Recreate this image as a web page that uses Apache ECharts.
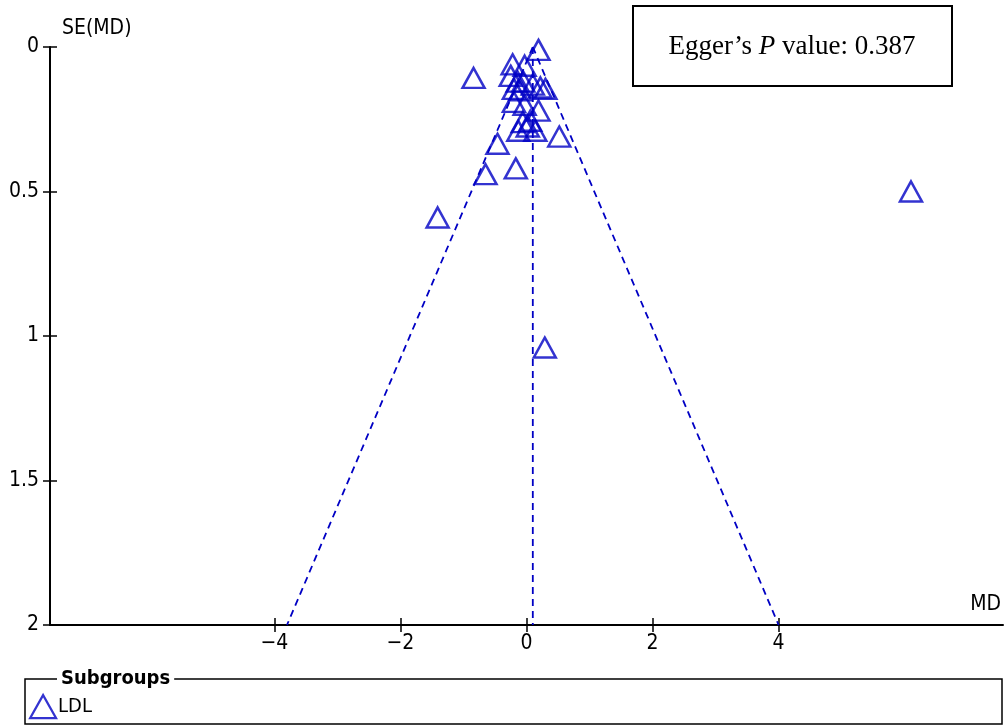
<!DOCTYPE html>
<html>
<head>
<meta charset="utf-8">
<script src="https://cdn.jsdelivr.net/npm/echarts@6/dist/echarts.min.js"></script>
<style>
html,body{margin:0;padding:0;background:#fff;}
#chart{width:1005px;height:727px;}
</style>
</head>
<body>
<div id="chart"></div>
<script>
// Study points: [MD, SE(MD)]
const ldlPoints = [
  [0.19, 0.01], [-0.22, 0.06], [-0.03, 0.065], [-0.84, 0.107], [-0.25, 0.10],
  [-0.14, 0.12], [-0.05, 0.12], [0.10, 0.13], [0.22, 0.14], [0.30, 0.145],
  [-0.20, 0.145], [-0.10, 0.15], [-0.20, 0.19], [-0.03, 0.20], [0.19, 0.22],
  [-0.06, 0.26], [0.06, 0.255], [-0.13, 0.29], [0.14, 0.29], [0.02, 0.275],
  [0.52, 0.31], [-0.46, 0.335], [-0.65, 0.44], [-0.17, 0.42], [-1.41, 0.59],
  [0.29, 1.04], [6.10, 0.50]
];
// Funnel guide lines
const funnelLeft = [[0.1, 0], [-3.8, 2]];
const funnelRight = [[0.1, 0], [4.0, 2]];
const funnelCenter = [[0.1, 0], [0.1, 2]];
const xTicks = [-4, -2, 0, 2, 4];
const yTicks = [0, 0.5, 1, 1.5, 2];
const seriesName = 'LDL';
const eggerP = '0.387';

const blue = '#0000C4';
const font = "'DejaVu Sans Condensed','DejaVu Sans',sans-serif";
const serif = "'Liberation Serif','Times New Roman',serif";
const chart = echarts.init(document.getElementById('chart'));

function dashLine(data) {
  return {
    type: 'line', data: data, symbol: 'none', silent: true,
    lineStyle: { color: blue, width: 1.8, type: [7, 5] },
    z: 1
  };
}

const xRange = { min: -7.56, max: 7.56 };
const tickStyle = { color: '#000', width: 1.5 };

chart.setOption({
  animation: false,
  backgroundColor: '#fff',
  grid: { left: 50, right: 2, top: 47, bottom: 102, containLabel: false },
  xAxis: [{
    type: 'value', min: xRange.min, max: xRange.max,
    splitLine: { show: false },
    axisLine: { onZero: false, lineStyle: { color: '#000', width: 2 } },
    axisTick: { customValues: xTicks, length: 7, lineStyle: tickStyle },
    axisLabel: { customValues: xTicks, color: '#000', fontSize: 21, fontFamily: font, margin: 8,
      formatter: v => String(v).replace('-', '\u2212') }
  }, {
    type: 'value', min: xRange.min, max: xRange.max, position: 'bottom',
    splitLine: { show: false },
    axisLine: { show: false, onZero: false },
    axisTick: { customValues: xTicks, inside: true, length: 7, lineStyle: tickStyle },
    axisLabel: { show: false }
  }],
  yAxis: [{
    type: 'value', inverse: true, min: 0, max: 2, interval: 0.5,
    splitLine: { show: false },
    axisLine: { onZero: false, lineStyle: { color: '#000', width: 2 } },
    axisTick: { length: 7, lineStyle: tickStyle },
    axisLabel: { color: '#000', fontSize: 21, fontFamily: font, margin: 11,
      formatter: v => String(v) }
  }, {
    type: 'value', inverse: true, min: 0, max: 2, interval: 0.5, position: 'left',
    splitLine: { show: false },
    axisLine: { show: false, onZero: false },
    axisTick: { inside: true, length: 7, lineStyle: tickStyle },
    axisLabel: { show: false }
  }],
  legend: {
    data: [seriesName], left: 24, top: 689, icon: 'triangle',
    itemWidth: 26, itemHeight: 23, itemGap: 4,
    itemStyle: { color: 'rgba(0,0,0,0)', borderColor: blue, borderWidth: 2.2 },
    textStyle: { color: '#000', fontSize: 20, fontFamily: font, padding: [0, 0, 0, -3] }
  },
  series: [
    dashLine(funnelLeft),
    dashLine(funnelRight),
    dashLine(funnelCenter),
    {
      name: seriesName, type: 'scatter', data: ldlPoints,
      symbol: 'triangle', symbolSize: [22, 20],
      itemStyle: { color: 'rgba(0,0,0,0)', borderColor: blue, borderWidth: 2.5 },
      z: 3
    }
  ],
  graphic: [
    { type: 'text', left: 62, top: 18,
      style: { text: 'SE(MD)', fill: '#000', fontSize: 21, fontFamily: font } },
    { type: 'text', right: 4, top: 594,
      style: { text: 'MD', fill: '#000', fontSize: 21, fontFamily: font } },
    { type: 'rect', shape: { x: 633, y: 6, width: 319, height: 80 },
      style: { fill: '#fff', stroke: '#000', lineWidth: 2 }, z: 10 },
    { type: 'text', x: 792, y: 47, z: 11,
      style: {
        text: '{n|Egger\u2019s }{i|P}{n| value: ' + eggerP + '}',
        align: 'center', verticalAlign: 'middle',
        rich: {
          n: { fontFamily: serif, fontSize: 27, fill: '#000' },
          i: { fontFamily: serif, fontSize: 27, fontStyle: 'italic', fill: '#000' }
        }
      } },
    { type: 'rect', shape: { x: 25, y: 679, width: 977, height: 45 },
      style: { fill: 'rgba(0,0,0,0)', stroke: '#000', lineWidth: 1.5 }, z: 10 },
    { type: 'text', x: 57, y: 679, z: 11,
      style: { text: 'Subgroups', fill: '#000', fontSize: 20, fontWeight: 'bold',
        fontFamily: font, verticalAlign: 'middle', backgroundColor: '#fff', padding: [0, 4] } }
  ]
});
</script>
</body>
</html>
